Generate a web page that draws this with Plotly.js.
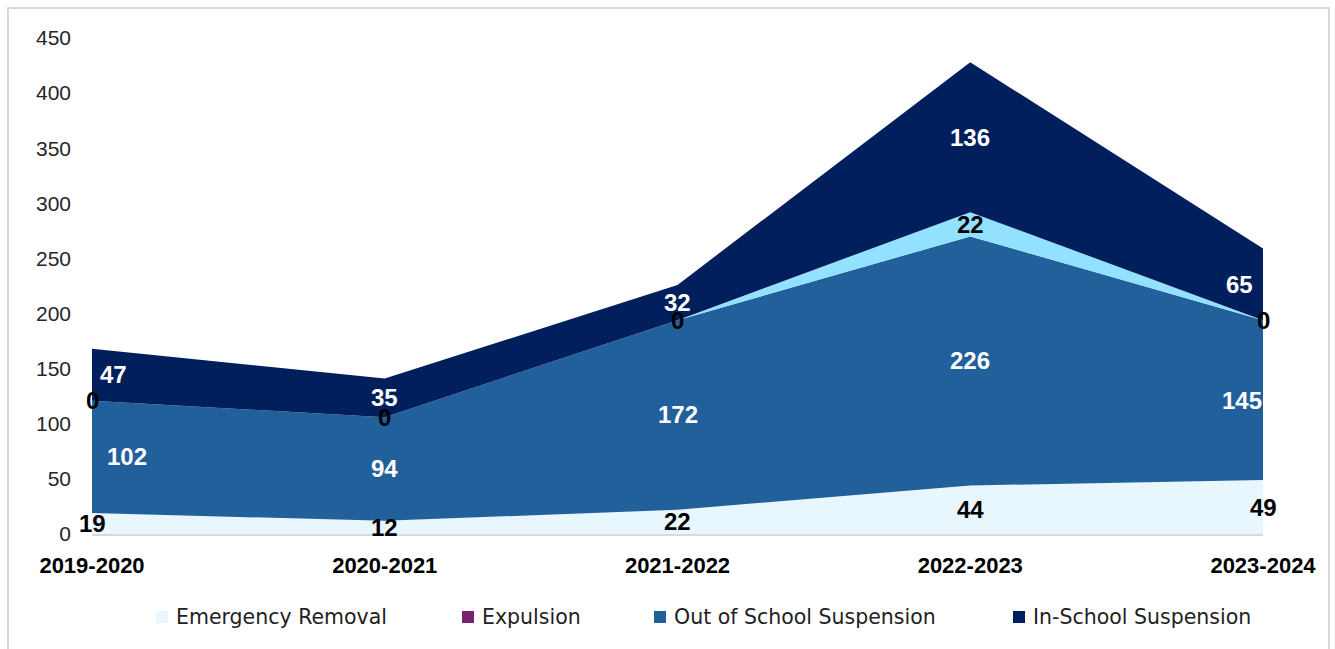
<!DOCTYPE html>
<html><head><meta charset="utf-8">
<script src="https://cdn.plot.ly/plotly-3.0.1.min.js"></script>
<style>
html,body{margin:0;padding:0;background:#fff}
#wrap{position:relative;width:1335px;height:649px;overflow:hidden}
#chart{width:1335px;height:649px}
#frame{position:absolute;left:7px;top:7px;width:1323px;height:680px;border:2px solid #D9D9D9;pointer-events:none;box-sizing:border-box}
</style>
</head><body><div id="wrap"><div id="chart"></div><div id="frame"></div></div>
<script>
// ---- data ----
const years = ['2019-2020', '2020-2021', '2021-2022', '2022-2023', '2023-2024'];
const emergencyRemoval = [19, 12, 22, 44, 49];
const expulsion = [0, 0, 0, 0, 0];
const outOfSchoolSuspension = [102, 94, 172, 226, 145];
const otherPlacement = [0, 0, 0, 22, 0];
const inSchoolSuspension = [47, 35, 32, 136, 65];
const yTicks = [0, 50, 100, 150, 200, 250, 300, 350, 400, 450];

// ---- series (stack order bottom -> top) ----
const series = [
  {name: 'Emergency Removal', y: emergencyRemoval, color: '#E8F6FE', label: '#000000', showLabels: true, legend: true, edge: [0, 0]},
  {name: 'Expulsion', y: expulsion, color: '#7A2270', label: '#000000', showLabels: false, legend: true, edge: [0, 0]},
  {name: 'Out of School Suspension', y: outOfSchoolSuspension, color: '#22609B', label: '#FFFFFF', showLabels: true, legend: true, edge: [35, -21]},
  {name: 'Other', y: otherPlacement, color: '#92E2FF', label: '#000000', showLabels: true, legend: false, edge: [0, 0]},
  {name: 'In-School Suspension', y: inSchoolSuspension, color: '#011F5C', label: '#FFFFFF', showLabels: true, legend: true, edge: [21, -24]}
];

const traces = series.map(s => ({
  type: 'scatter', x: years, y: s.y, name: s.name, stackgroup: 'one',
  mode: 'none', fill: 'tonexty', fillcolor: s.color, showlegend: false,
  hovertemplate: s.name + ': %{y}<extra></extra>'
}));

// ---- data labels ----
const annotations = [];
const base = years.map(() => 0);
series.forEach(s => {
  s.y.forEach((v, i) => {
    if (s.showLabels) {
      let shift = 0;
      if (i === 0) shift = s.edge[0];
      if (i === years.length - 1) shift = s.edge[1];
      annotations.push({
        x: years[i], y: base[i] + v / 2, xref: 'x', yref: 'y', text: String(v),
        showarrow: false, xshift: shift,
        font: {family: 'Liberation Sans, Arial, sans-serif', size: 24, color: s.label, weight: 'bold'}
      });
    }
    base[i] += v;
  });
});

// ---- legend (manual, positioned like the reference) ----
const plotL = 92, plotW = 1171, plotB = 534, plotH = 496;
const px2x = p => (p - plotL) / plotW;
const px2y = p => (plotB - p) / plotH;
const legendLeft = [156, 462, 654, 1013];
const legendY = px2y(617);
const shapes = [];
series.filter(s => s.legend).forEach((s, k) => {
  shapes.push({
    type: 'rect', xref: 'paper', yref: 'paper', xsizemode: 'pixel', ysizemode: 'pixel',
    xanchor: px2x(legendLeft[k]), yanchor: legendY, x0: 0, x1: 12, y0: -6, y1: 6,
    fillcolor: s.color, line: {width: 0}
  });
  annotations.push({
    xref: 'paper', yref: 'paper', x: px2x(legendLeft[k] + 18), y: legendY,
    xanchor: 'left', yanchor: 'middle', text: s.name, showarrow: false,
    font: {family: 'DejaVu Sans, sans-serif', size: 20.5, color: '#222222'}
  });
});

const layout = {
  width: 1335, height: 649,
  margin: {l: 92, r: 72, t: 38, b: 115, pad: 0},
  paper_bgcolor: '#FFFFFF', plot_bgcolor: '#FFFFFF',
  showlegend: false,
  xaxis: {
    type: 'category', range: [0, years.length - 1], showgrid: false, zeroline: false,
    showline: true, linecolor: '#D9D9D9', linewidth: 2, ticks: '', ticklabelstandoff: 11,
    tickfont: {family: 'Liberation Sans, Arial, sans-serif', size: 22, color: '#000000', weight: 'bold'}
  },
  yaxis: {
    range: [0, 450], tickvals: yTicks, ticktext: yTicks.map(String), showgrid: false,
    zeroline: false, showline: false, ticks: '', ticklabelstandoff: 20,
    tickfont: {family: 'Liberation Sans, Arial, sans-serif', size: 21, color: '#262626'}
  },
  annotations: annotations,
  shapes: shapes
};

Plotly.newPlot('chart', traces, layout, {displayModeBar: false, staticPlot: true});
</script>
</body></html>
